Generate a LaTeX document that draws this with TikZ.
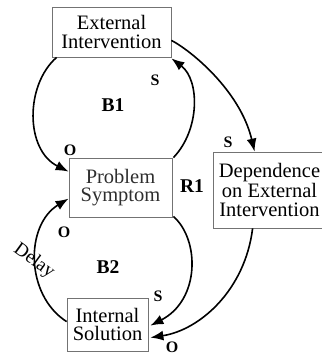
\documentclass[tikz,border=0pt]{standalone}
\usepackage{fontspec}
\setmainfont{Liberation Serif}
\usetikzlibrary{arrows.meta,calc}
\begin{document}
\begin{tikzpicture}[x=1pt,y=-1pt,
  box/.style={draw=black!55,line width=0.8pt,inner sep=0pt,align=center,
    font=\fontsize{20.5}{18.5}\selectfont},
  arr/.style={line width=1.6pt,-{Latex[length=13pt,width=10pt]}},
  pol/.style={font=\fontsize{16}{16}\selectfont\bfseries},
  loopl/.style={font=\fontsize{19.5}{19.5}\selectfont\bfseries}]
\useasboundingbox (0,0) rectangle (321,355);
\node[box,minimum width=119pt,minimum height=50pt] (EI) at (111.5,32) {External\\Intervention};
\node[box,minimum width=103pt,minimum height=59pt,text=black!82] (PS) at (120.5,187.5) {Problem\\Symptom};
\node[box,minimum width=113pt,minimum height=76pt] (DE) at (269.5,190) {Dependence\\on External\\Intervention};
\node[box,minimum width=81pt,minimum height=53pt] (IS) at (107.5,324.5) {Internal\\Solution};
% connectors
\draw[arr] ($(EI.south west)+(5,0)$) .. controls (25,85) and (25,150) .. ($(PS.north west)+(0,14)$);
\draw[arr] ($(PS.north east)+(1,0)$) .. controls (200,130) and (200,80) .. ($(EI.south east)+(0,1)$);
\draw[arr] ($(EI.south east)+(0,-17)$) .. controls (190,50) and (240,90) .. ($(DE.north west)+(42,0)$);
\draw[arr] ($(PS.south east)+(1,-1)$) .. controls (200,240) and (200,300) .. ($(IS.north east)+(2,28)$);
\draw[arr] ($(DE.south west)+(40,0)$) .. controls (245,290) and (200,330) .. ($(IS.north east)+(2,40)$);
\draw[arr] ($(IS.north west)+(0,24)$) .. controls (25,295) and (25,225) .. ($(PS.north west)+(0,41)$);
% labels
\node[pol] (s1) at (155,80) {S};
\node[loopl] (b1) at (113,105) {B1};
\node[pol] (o1) at (70,150) {O};
\node[pol] (s2) at (228,142) {S};
\node[loopl] (r1) at (192,186) {R1};
\node[pol] (o2) at (64,232) {O};
\node[rotate=-36,font=\fontsize{19}{19}\selectfont] (dl) at (34,261) {Delay};
\node[loopl] (b2) at (108,267) {B2};
\node[pol] (s3) at (158,296) {S};
\node[pol] (o3) at (172,347) {O};
\end{tikzpicture}
\end{document}
